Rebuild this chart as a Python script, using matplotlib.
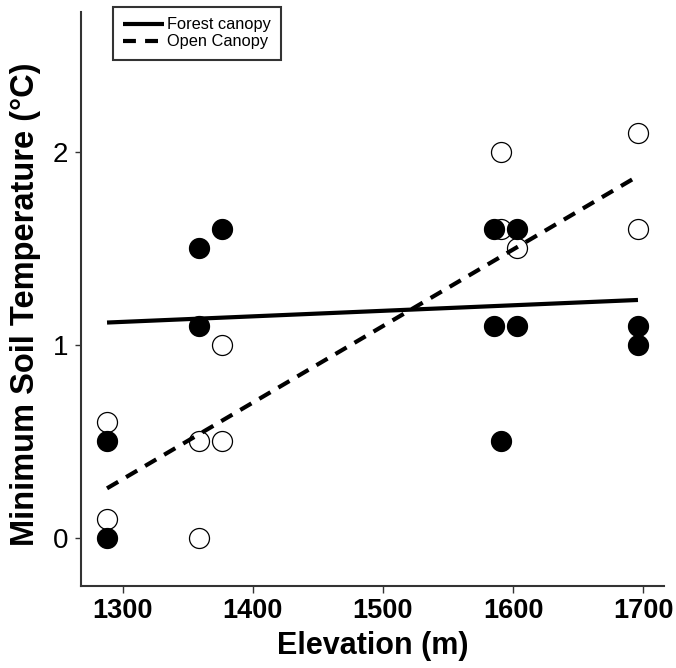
import matplotlib as mpl
mpl.use('Agg')
import matplotlib.pyplot as plt
import numpy as np

# data
forest_elev = [1288, 1288, 1359, 1359, 1376, 1585, 1585, 1591, 1603, 1603, 1696, 1696]
forest_temp = [0.0, 0.5, 1.5, 1.1, 1.6, 1.6, 1.1, 0.5, 1.6, 1.1, 1.1, 1.0]
open_elev = [1288, 1288, 1359, 1359, 1376, 1376, 1591, 1591, 1603, 1696, 1696]
open_temp = [0.1, 0.6, 0.5, 0.0, 1.0, 0.5, 2.0, 1.6, 1.5, 2.1, 1.6]

# fitted lines (end values)
fit_elev = [1288, 1696]
forest_fit = [1.116, 1.233]
open_fit = [0.257, 1.875]

xticks = [1300, 1400, 1500, 1600, 1700]
yticks = [0, 1, 2]

plt.rcParams['font.family'] = ['Liberation Sans', 'DejaVu Sans']

W, H = 676, 668
fig = plt.figure(figsize=(W/100.0, H/100.0), dpi=100)
ax = fig.add_axes([81.0/W, (H-586.0)/H, (664.0-81.0)/W, (586.0-12.0)/H])

ms = 14.4
ax.plot(open_elev, open_temp, 'o', ms=ms, mfc='white', mec='black', mew=0.9, zorder=2)
ax.plot(forest_elev, forest_temp, 'o', ms=ms, mfc='black', mec='black', mew=0.9, zorder=3)

l1, = ax.plot(fit_elev, forest_fit, '-', color='black', lw=3, solid_capstyle='butt', zorder=4)
l2, = ax.plot(fit_elev, open_fit, '--', color='black', lw=3, dashes=(3.1, 2.2), zorder=4)

ax.set_xlim(1268, 1716)
ax.set_ylim(-0.249, 2.725)
ax.set_xticks(xticks)
ax.set_yticks(yticks)
ax.set_xticklabels([str(v) for v in xticks], fontsize=19.5, fontweight='bold')
ax.set_yticklabels([str(v) for v in yticks], fontsize=20)

for s in ['top', 'right']:
	ax.spines[s].set_visible(False)
for s in ['left', 'bottom']:
	ax.spines[s].set_linewidth(1.5)
	ax.spines[s].set_color('#333333')
ax.tick_params(axis='x', length=5, width=1, color='#333333', pad=4)
ax.tick_params(axis='y', length=4, width=1, color='#333333', pad=5)

ax.set_xlabel('Elevation (m)', fontsize=22, fontweight='bold', labelpad=5)
ax.set_ylabel('Minimum Soil Temperature (\u00b0C)', fontsize=23.5, fontweight='bold', labelpad=3)
ax.yaxis.set_label_coords(-0.068, 0.491)

leg = fig.legend([l1, l2], ['Forest canopy', 'Open Canopy'], loc='upper left',
	bbox_to_anchor=(112.7/W, 1-7.3/H), bbox_transform=fig.transFigure,
	fontsize=11.8, frameon=True, fancybox=False, handlelength=2.5,
	borderaxespad=0, borderpad=0.62, labelspacing=0.12, handletextpad=0.2)
leg.get_frame().set_edgecolor('black')
leg.get_frame().set_linewidth(1.5)

plt.savefig('out.png', dpi=100)
